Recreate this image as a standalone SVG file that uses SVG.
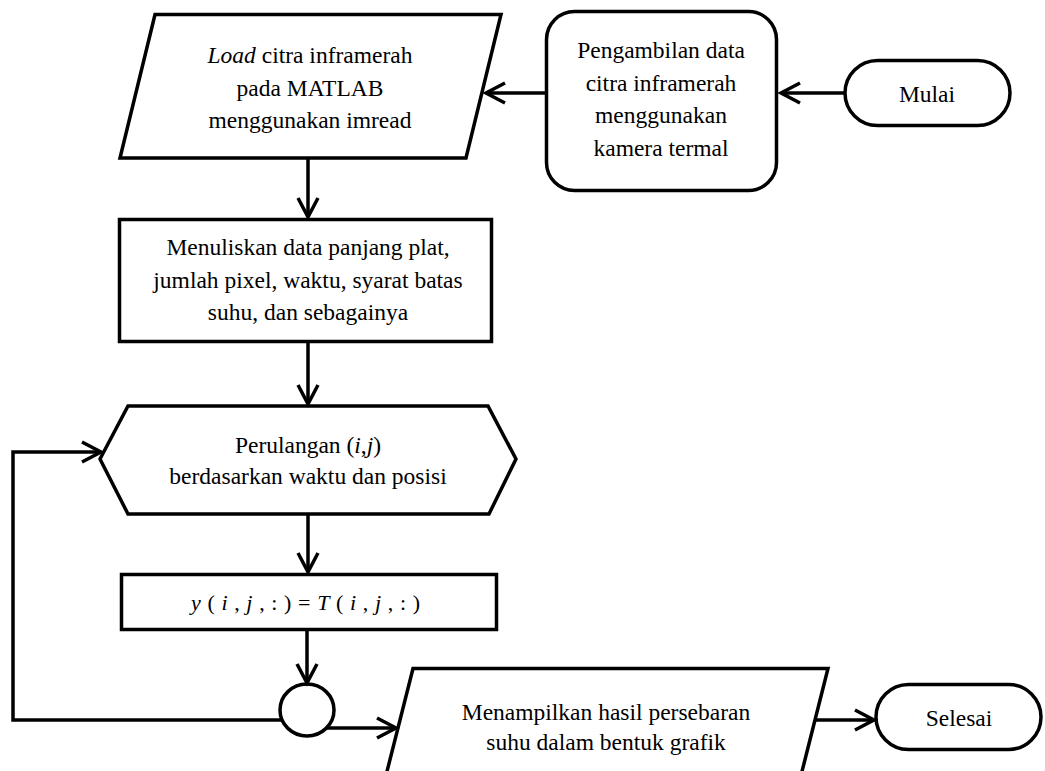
<svg xmlns="http://www.w3.org/2000/svg" width="1045" height="771" viewBox="0 0 1045 771">
<defs>
<style>
.s{fill:#fff;stroke:#000;stroke-width:3.5;stroke-linejoin:miter}
.c{fill:none;stroke:#000;stroke-width:3.5}
.t{font-family:"Liberation Serif","Times New Roman",serif;font-size:23.5px;fill:#000;text-anchor:middle}
.m{font-family:"Liberation Serif","Times New Roman",serif;font-size:22px;fill:#000}
.i{font-style:italic}
</style>
<marker id="a" markerUnits="userSpaceOnUse" viewBox="0 0 26 26" refX="22" refY="13" markerWidth="26" markerHeight="26" orient="auto">
<path d="M3,3 L22,13 L3,23" fill="none" stroke="#000" stroke-width="3.5"/>
</marker>
</defs>
<rect width="1045" height="771" fill="#fff"/>
<g id="n-mulai">
<rect class="s" x="845" y="60.5" width="165" height="65" rx="32.5"/>
<text class="t" x="927" y="102">Mulai</text>
</g>
<g id="n-pengambilan">
<rect class="s" x="546.5" y="11.5" width="230" height="179" rx="28"/>
<text class="t" x="661" y="58">Pengambilan data</text>
<text class="t" x="661" y="91">citra inframerah</text>
<text class="t" x="661" y="123">menggunakan</text>
<text class="t" x="661" y="156">kamera termal</text>
</g>
<g id="n-load">
<polygon class="s" points="155,14.5 501,14.5 466,158 120,158"/>
<text class="t" x="310" y="63"><tspan class="i">Load</tspan> citra inframerah</text>
<text class="t" x="310" y="96">pada MATLAB</text>
<text class="t" x="310" y="128">menggunakan imread</text>
</g>
<g id="n-menuliskan">
<rect class="s" x="119.5" y="219.5" width="372" height="122"/>
<text class="t" x="308" y="255">Menuliskan data panjang plat,</text>
<text class="t" x="308" y="288">jumlah pixel, waktu, syarat batas</text>
<text class="t" x="308" y="320">suhu, dan sebagainya</text>
</g>
<g id="n-perulangan">
<polygon class="s" points="100,459 128,406 488,406 516,459 489,514 128,514"/>
<text class="t" x="308" y="453">Perulangan (<tspan class="i">i</tspan>,<tspan class="i">j</tspan>)</text>
<text class="t" x="308" y="484">berdasarkan waktu dan posisi</text>
</g>
<g id="n-assign">
<rect class="s" x="121.5" y="574.5" width="375" height="55"/>
<text class="m" x="191" y="610" textLength="229" lengthAdjust="spacing"><tspan class="i">y</tspan> ( <tspan class="i">i</tspan> , <tspan class="i">j</tspan> , : ) = <tspan class="i">T</tspan> ( <tspan class="i">i</tspan> , <tspan class="i">j</tspan> , : )</text>
</g>
<g id="n-connector">
<ellipse class="s" cx="307" cy="710" rx="27" ry="26"/>
</g>
<g id="n-menampilkan">
<polygon class="s" points="413,668.5 828,668.5 791,815 376,815"/>
<text class="t" x="606" y="720">Menampilkan hasil persebaran</text>
<text class="t" x="606" y="750">suhu dalam bentuk grafik</text>
</g>
<g id="n-selesai">
<rect class="s" x="876" y="684.5" width="165" height="65" rx="32.5"/>
<text class="t" x="959" y="726">Selesai</text>
</g>
<g id="connectors">
<line class="c" x1="845" y1="93" x2="781" y2="93" marker-end="url(#a)"/>
<line class="c" x1="546.5" y1="93" x2="486" y2="93" marker-end="url(#a)"/>
<line class="c" x1="308" y1="158" x2="308" y2="217" marker-end="url(#a)"/>
<line class="c" x1="308" y1="341.5" x2="308" y2="404" marker-end="url(#a)"/>
<line class="c" x1="308" y1="514" x2="308" y2="572" marker-end="url(#a)"/>
<line class="c" x1="307" y1="629.5" x2="307" y2="683" marker-end="url(#a)"/>
<path class="c" d="M282,720 H13 V452 H101" marker-end="url(#a)"/>
<line class="c" x1="326" y1="728" x2="396" y2="728" marker-end="url(#a)"/>
<line class="c" x1="815" y1="720" x2="874" y2="720" marker-end="url(#a)"/>
</g>
</svg>
